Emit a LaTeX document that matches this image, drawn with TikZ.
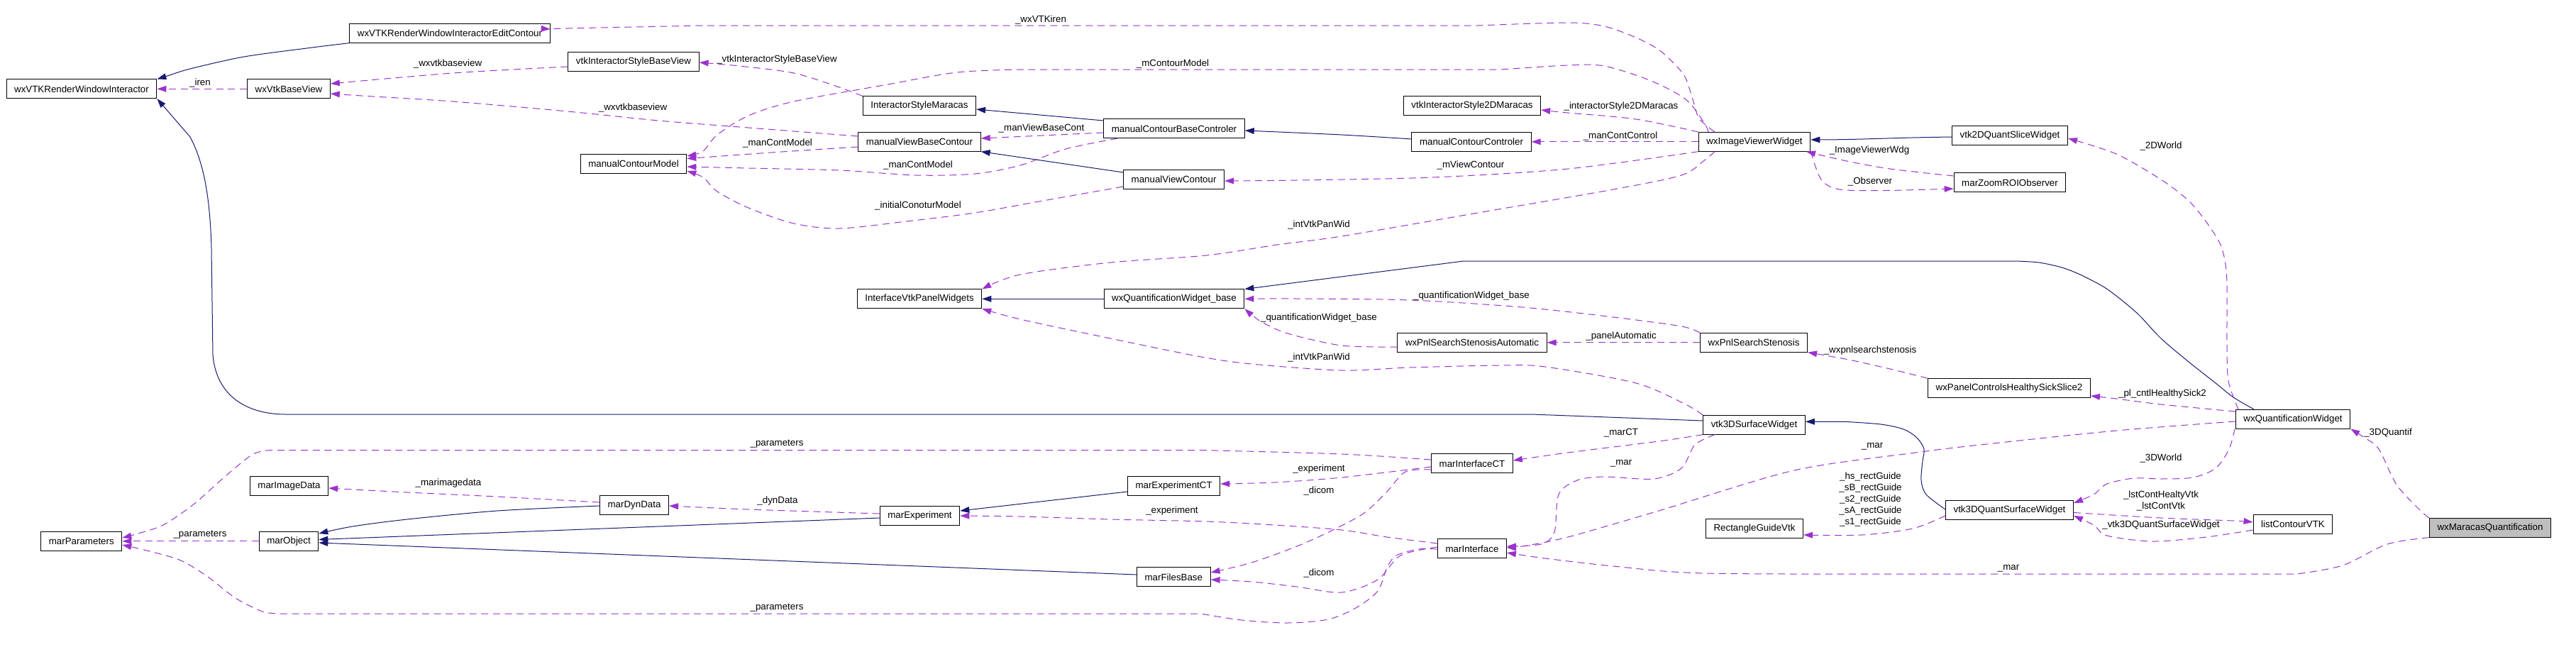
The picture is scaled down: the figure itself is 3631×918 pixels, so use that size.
\documentclass[tikz,border=0pt]{standalone}
\usepackage{fontspec}
\setmainfont{Liberation Sans}
\usetikzlibrary{arrows.meta}

\definecolor{inhblue}{RGB}{25,25,112}
\definecolor{membpurple}{RGB}{154,50,205}
\definecolor{hlgray}{RGB}{191,191,191}

\tikzset{every picture/.style={line width=0.75pt}}
\tikzset{
  cls/.style={draw=black, fill=white, font=\fontsize{10}{12}\selectfont, inner xsep=8.3pt, inner ysep=0pt, minimum height=20pt},
  lbl/.style={font=\fontsize{10}{12}\selectfont, inner sep=0.75pt, align=center},
  inh/.style={draw=inhblue, -{Triangle[length=9.75pt,width=6.5pt]}},
  memb/.style={draw=membpurple, dash pattern=on 7.5pt off 5pt, -{Triangle[length=9.75pt,width=6.5pt]}},
}

\begin{document}
\begin{tikzpicture}[x=0.75pt,y=0.75pt,yscale=-1,xscale=1]
		\useasboundingbox (0,0) rectangle (3631,918);

		%Classes
		\node [cls] (vtkRWI) at (115,125.3) {wxVTKRenderWindowInteractor};
		\node [cls] (editC) at (634,46.8) {wxVTKRenderWindowInteractorEditContour};
		\node [cls] (styleBV) at (893,86.8) {vtkInteractorStyleBaseView};
		\node [cls] (baseView) at (407,125.3) {wxVtkBaseView};
		\node [cls] (contModel) at (893,230.8) {manualContourModel};
		\node [cls] (styleMar) at (1296,149.3) {InteractorStyleMaracas};
		\node [cls] (baseCtrl) at (1655,181.3) {manualContourBaseControler};
		\node [cls] (viewBase) at (1296,199.8) {manualViewBaseContour};
		\node [cls] (viewCont) at (1654.6,253) {manualViewContour};
		\node [cls] (style2D) at (2075,149.3) {vtkInteractorStyle2DMaracas};
		\node [cls] (contCtrl) at (2074,199.8) {manualContourControler};
		\node [cls] (imgViewer) at (2473,199.8) {wxImageViewerWidget};
		\node [cls] (slice2D) at (2833,190.8) {vtk2DQuantSliceWidget};
		\node [cls] (zoomObs) at (2833,257.3) {marZoomROIObserver};
		\node [cls] (panelWid) at (1296,421.3) {InterfaceVtkPanelWidgets};
		\node [cls] (quantBase) at (1655,421.3) {wxQuantificationWidget\_base};
		\node [cls] (stenAuto) at (2075,482.8) {wxPnlSearchStenosisAutomatic};
		\node [cls] (sten) at (2472,482.8) {wxPnlSearchStenosis};
		\node [cls] (surf3D) at (2472.5,598.8) {vtk3DSurfaceWidget};
		\node [cls] (healthy) at (2832,547) {wxPanelControlsHealthySickSlice2};
		\node [cls] (quantW) at (3232,590.7) {wxQuantificationWidget};
		\node [cls] (quantSurf) at (2832.5,718.8) {vtk3DQuantSurfaceWidget};
		\node [cls] (lstCont) at (3232,738.8) {listContourVTK};
		\node [cls, fill=hlgray] (maracasQ) at (3510,743.8) {wxMaracasQuantification};
		\node [cls] (interCT) at (2075,653.3) {marInterfaceCT};
		\node [cls] (inter) at (2075,773.3) {marInterface};
		\node [cls] (rectGuide) at (2473,745.3) {RectangleGuideVtk};
		\node [cls] (params) at (114.8,762.8) {marParameters};
		\node [cls] (object) at (407,762.8) {marObject};
		\node [cls] (imgData) at (407.5,685.3) {marImageData};
		\node [cls] (dynData) at (894,711.8) {marDynData};
		\node [cls] (exper) at (1296.5,726.8) {marExperiment};
		\node [cls] (experCT) at (1654.6,685.3) {marExperimentCT};
		\node [cls] (files) at (1654.3,813.3) {marFilesBase};

		%Inheritance
		\draw [inh] plot [smooth,tension=.5] coordinates {(editC.south west) (440,67) (344,80) (268,97) (236,107) (vtkRWI.north east)};
		\draw [inh] (surf3D.west |- 0,593) -- (2159,584) -- (403,584) .. controls (350,584) and (305,560) .. (300,500) -- (298,350) .. controls (296,270) and (285,225) .. (268,193) -- (vtkRWI.south east);
		\draw [inh] (baseCtrl.west |- 0,170) -- (styleMar.east |- 0,154);
		\draw [inh] (viewCont.west |- 0,243) -- (viewBase.south east);
		\draw [inh] plot [smooth,tension=.5] coordinates {(contCtrl.west |- 0,196) (1891,190) (baseCtrl.east |- 0,184)};
		\draw [inh] plot [smooth,tension=.5] coordinates {(slice2D.west |- 0,193) (2696,194) (2606,196.5) (imgViewer.east |- 0,197)};
		\draw [inh] (quantBase.west) -- (panelWid.east);
		\draw [inh] plot [smooth,tension=.5] coordinates {(quantW.north -| 3177,0) (3148,560) (3123,540) (3085,510) (3046,477) (3014,443) (2983,417) (2963,403) (2932,387) (2906,377) (2874,370) (2842,368)} -- (2063,368) -- (quantBase.north east);
		\draw [inh] plot [smooth,tension=.5] coordinates {(dynData.west |- 0,713) (701,720) (574,732) (497,742) (object.east |- 0,752)};
		\draw [inh] (exper.west |- 0,730) -- (object.east |- 0,760.5);
		\draw [inh] (files.west |- 0,810) -- (object.east |- 0,765);
		\draw [inh] (experCT.west |- 0,693) -- (exper.east |- 0,720);
		\draw [inh] plot [smooth,tension=.5] coordinates {(quantSurf.west |- 0,718) (2715,697) (2708,677) (2710,650) (2712,633) (2702,617) (2683,605) (2651,598) (2600,594.3)} -- (surf3D.east |- 0,594.3);

		%Members
		\draw [memb] (baseView.west) -- (vtkRWI.east);
		\draw [memb] plot [smooth,tension=.5] coordinates {(styleBV.west |- 0,94) (638,103) (baseView.east |- 0,118)};
		\draw [memb] plot [smooth,tension=.5] coordinates {(viewBase.west |- 0,192) (1055,180) (928,170) (800,157) (638,143) (510,135) (baseView.east |- 0,132)};
		\draw [memb] plot [smooth,tension=.5] coordinates {(styleMar.north west) (1183,123) (1119,103) (1042,93) (styleBV.east |- 0,88)};
		\draw [memb] plot [smooth,tension=.5] coordinates {(imgViewer.north -| 2408,0) (2402,173) (2376,140) (2325,113) (2261,93) (2210,92) (2115,98)} -- plot [smooth,tension=.5] coordinates {(1438,98) (1349,102) (1246,120) (1119,143) (1055,163) (1011,190) (991,213) (contModel.east |- 0,220)};
		\draw [memb] plot [smooth,tension=.5] coordinates {(viewBase.west |- 0,207) (1087,215) (contModel.east |- 0,223.5)};
		\draw [memb] plot [smooth,tension=.5] coordinates {(baseCtrl.south -| 1575,0) (1502,210) (1438,233) (1374,245) (1291,247) (1183,240) (1055,237) (contModel.east |- 0,235)};
		\draw [memb] plot [smooth,tension=.5] coordinates {(viewCont.west |- 0,263) (1470,283) (1374,300) (1278,312) (1183,322) (1119,315) (1055,293) (1011,270) (991,250) (contModel.east |- 0,241)};
		\draw [memb] (baseCtrl.west |- 0,187) -- (viewBase.east |- 0,195);
		\draw [memb] plot [smooth,tension=.5] coordinates {(imgViewer.north -| 2417,0) (2395,167) (2386,140) (2376,110) (2363,93) (2338,70) (2306,53) (2261,37) (2210,32) (2083,36)} -- plot [smooth,tension=.5] coordinates {(991,36) (800,40) (editC.east |- 0,41)};
		\draw [memb] plot [smooth,tension=.5] coordinates {(imgViewer.north west) (2306,168) (2210,159) (style2D.east |- 0,155)};
		\draw [memb] (imgViewer.west) -- (contCtrl.east);
		\draw [memb] plot [smooth,tension=.5] coordinates {(imgViewer.south west) (2210,238) (2019,250) (1828,254) (viewCont.east |- 0,255)};
		\draw [memb] plot [smooth,tension=.5] coordinates {(imgViewer.south -| 2417,0) (2401,227) (2370,247) (2274,267) (2083,300) (1891,333) (1800,345) (1700,360) (1565,370) (1438,387) (panelWid.north east)};
		\draw [memb] plot [smooth,tension=.5] coordinates {(zoomObs.west |- 0,248) (2664,238) (2603,227) (imgViewer.south -| 2546,0)};
		\draw [memb] plot [smooth,tension=.5] coordinates {(imgViewer.south east) (2567,253) (2593,267) (2657,268.5) (zoomObs.west |- 0,266)};
		\draw [memb] plot [smooth,tension=.5] coordinates {(sten.north west) (2370,460) (2274,447) (2146,433) (1987,423) (1828,421) (quantBase.east)};
		\draw [memb] plot [smooth,tension=.5] coordinates {(stenAuto.west |- 0,489) (1891,487) (1815,470) (1777,453) (quantBase.south east)};
		\draw [memb] (sten.west) -- (stenAuto.east);
		\draw [memb] plot [smooth,tension=.5] coordinates {(surf3D.north west) (2376,570) (2306,540) (2178,517) (2115,515) (1987,518) (1891,522) (1764,513) (1693,503) (1565,477) (1438,450) (panelWid.south east)};
		\draw [memb] plot [smooth,tension=.5] coordinates {(healthy.north west) (2664,520) (2606,507) (sten.south east)};
		\draw [memb] plot [smooth,tension=.5] coordinates {(quantW.west |- 0,580) (3046,570) (2983,562) (healthy.east |- 0,558)};
		\draw [memb] plot [smooth,tension=.5] coordinates {(quantW.north -| 3155,0) (3141,537) (3139,483) (3139,400) (3136,367) (3129,343) (3110,313) (3085,283) (3046,253) (2983,217) (slice2D.east |- 0,195)};
		\draw [memb] plot [smooth,tension=.5] coordinates {(quantW.west |- 0,594) (2983,607) (2791,627) (2700,638) (2529,663) (2338,720) (2210,757) (2146,770) (inter.east |- 0,772)};
		\draw [memb] plot [smooth,tension=.5] coordinates {(surf3D.south west) (2338,622) (2210,638) (interCT.east |- 0,649)};
		\draw [memb] plot [smooth,tension=.5] coordinates {(surf3D.south -| 2417,0) (2389,627) (2370,660) (2331,675) (2261,672) (2223,677) (2197,697) (2191,750) (2172,767) (inter.east |- 0,770)};
		\draw [memb] plot [smooth,tension=.5] coordinates {(interCT.west |- 0,658) (1891,673) (1796,680) (experCT.east |- 0,682)};
		\draw [memb] plot [smooth,tension=.5] coordinates {(interCT.west |- 0,662) (1981,665) (1955,693) (1923,723) (1879,747) (1828,770) (1764,793) (files.east |- 0,807)};
		\draw [memb] plot [smooth,tension=.5] coordinates {(inter.west |- 0,771) (1974,783) (1942,817) (1891,835) (1828,827) (1764,820) (files.east |- 0,817)};
		\draw [memb] plot [smooth,tension=.5] coordinates {(inter.west |- 0,766) (1955,757) (1891,747) (1796,740) (1700,735) (1565,732) (1438,728) (exper.east |- 0,727)};
		\draw [memb] plot [smooth,tension=.5] coordinates {(interCT.west |- 0,648) (1891,640) (1693,634.5)} -- plot [smooth,tension=.5] coordinates {(383,634.5) (357,640) (319,670) (274,710) (230,740) (191,753) (params.east |- 0,758)};
		\draw [memb] (object.west) -- (params.east);
		\draw [memb] plot [smooth,tension=.5] coordinates {(inter.west |- 0,774) (2000,774) (1968,783) (1955,800) (1942,833) (1911,857) (1872,873) (1815,878) (1750,874) (1693,865)} -- plot [smooth,tension=.5] coordinates {(395,865) (370,862) (332,843) (293,813) (255,790) (211,777) (params.east |- 0,768)};
		\draw [memb] plot [smooth,tension=.5] coordinates {(dynData.west |- 0,708) (701,700) (574,694) (imgData.east |- 0,688)};
		\draw [memb] plot [smooth,tension=.5] coordinates {(exper.west |- 0,724) (1055,718) (dynData.east |- 0,713)};
		\draw [memb] plot [smooth,tension=.5] coordinates {(maracasQ.north west) (3410,718) (3378,683) (3353,633) (3333,617) (quantW.south east)};
		\draw [memb] plot [smooth,tension=.5] coordinates {(maracasQ.south west) (3365,767) (3302,797) (3238,809)} -- plot [smooth,tension=.5] coordinates {(2700,809) (2402,808) (2274,798) (2178,787) (inter.east |- 0,779)};
		\draw [memb] plot [smooth,tension=.5] coordinates {(quantW.south -| 3150,0) (3142,633) (3123,660) (3091,673) (3046,675) (3008,674) (2970,682) (2951,697) (quantSurf.east |- 0,709)};
		\draw [memb] plot [smooth,tension=.5] coordinates {(quantSurf.west |- 0,727) (2696,745) (2625,754) (rectGuide.east |- 0,754)};
		\draw [memb] plot [smooth,tension=.5] coordinates {(quantSurf.east |- 0,722.5) (3046,730) (3148,734) (lstCont.west |- 0,736)};
		\draw [memb] plot [smooth,tension=.5] coordinates {(lstCont.west |- 0,747) (3110,757) (3034,763) (2970,755) (2951,740) (quantSurf.east |- 0,727)};

		% Text Node
		\node [lbl] (l-iren) at (282,117) {\_iren};
		\node [lbl] (l-wxvtkbv1) at (631,90) {\_wxvtkbaseview};
		\node [lbl] (l-wxvtkbv2) at (892,152) {\_wxvtkbaseview};
		\node [lbl] (l-styleBV) at (1095,84) {\_vtkInteractorStyleBaseView};
		\node [lbl] (l-mContModel) at (1653,90) {\_mContourModel};
		\node [lbl] (l-manCM1) at (1096,202) {\_manContModel};
		\node [lbl] (l-manCM2) at (1294,233) {\_manContModel};
		\node [lbl] (l-initCM) at (1294,290) {\_initialConoturModel};
		\node [lbl] (l-manVBC) at (1468,181) {\_manViewBaseCont};
		\node [lbl] (l-wxVTKiren) at (1467,28) {\_wxVTKiren};
		\node [lbl] (l-style2D) at (2285,150) {\_interactorStyle2DMaracas};
		\node [lbl] (l-manCC) at (2284,192) {\_manContControl};
		\node [lbl] (l-mViewC) at (2073,233) {\_mViewContour};
		\node [lbl] (l-intVPW1) at (1859,317) {\_intVtkPanWid};
		\node [lbl] (l-imgVW) at (2635,212) {\_ImageViewerWdg};
		\node [lbl] (l-observer) at (2636,256) {\_Observer};
		\node [lbl] (l-qwb1) at (2074,417) {\_quantificationWidget\_base};
		\node [lbl] (l-qwb2) at (1859,448) {\_quantificationWidget\_base};
		\node [lbl] (l-panelAuto) at (2285,474) {\_panelAutomatic};
		\node [lbl] (l-intVPW2) at (1859,504) {\_intVtkPanWid};
		\node [lbl] (l-pnlsearch) at (2636,494) {\_wxpnlsearchstenosis};
		\node [lbl] (l-plcntl) at (3048,555) {\_pl\_cntlHealthySick2};
		\node [lbl] (l-2DWorld) at (3046,206) {\_2DWorld};
		\node [lbl] (l-mar1) at (2639,629) {\_mar};
		\node [lbl] (l-marCT) at (2285,610) {\_marCT};
		\node [lbl] (l-mar2) at (2285,653) {\_mar};
		\node [lbl] (l-exper1) at (1859,661) {\_experiment};
		\node [lbl] (l-dicom1) at (1859,692) {\_dicom};
		\node [lbl] (l-dicom2) at (1859,808) {\_dicom};
		\node [lbl] (l-exper2) at (1652,720) {\_experiment};
		\node [lbl] (l-params1) at (1095,626) {\_parameters};
		\node [lbl] (l-params2) at (282,754) {\_parameters};
		\node [lbl] (l-params3) at (1095,857) {\_parameters};
		\node [lbl] (l-marimg) at (632,681) {\_marimagedata};
		\node [lbl] (l-dynData) at (1096,706) {\_dynData};
		\node [lbl] (l-3DQuantif) at (3366,610) {\_3DQuantif};
		\node [lbl] (l-mar3) at (2831,801) {\_mar};
		\node [lbl] (l-3DWorld) at (3046,646) {\_3DWorld};
		\node [lbl] (l-rectGuide) at (2636.5,704) {\_hs\_rectGuide\\\_sB\_rectGuide\\\_s2\_rectGuide\\\_sA\_rectGuide\\\_s1\_rectGuide};
		\node [lbl] (l-lstCont) at (3046,705.5) {\_lstContHealtyVtk\\\_lstContVtk};
		\node [lbl] (l-vtk3DQSW) at (3046,740) {\_vtk3DQuantSurfaceWidget};

\end{tikzpicture}
\end{document}
